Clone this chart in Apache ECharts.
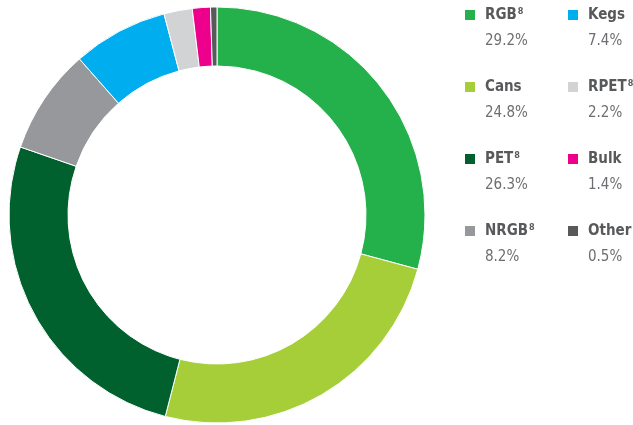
<!DOCTYPE html>
<html>
<head>
<meta charset="utf-8">
<script src="https://cdn.jsdelivr.net/npm/echarts@6/dist/echarts.min.js"></script>
<style>
  html, body { margin: 0; padding: 0; background: #fff; }
  #ChartDIV { width: 633px; height: 425px; }
</style>
</head>
<body>
<div id="ChartDIV"></div>
<script>
var names = ['RGB', 'Cans', 'PET', 'NRGB', 'Kegs', 'RPET', 'Bulk', 'Other'];
var shares = [29.2, 24.8, 26.3, 8.2, 7.4, 2.2, 1.4, 0.5];
var footnotes = ['8', '', '8', '8', '', '8', '', ''];
var colors = ['#24b14b', '#a6ce39', '#00612e', '#97989b', '#00aeef', '#d1d3d4', '#ec008c', '#58595b'];

var myChart = echarts.init(document.getElementById('ChartDIV'));

var fontFam = '"DejaVu Sans Condensed", "DejaVu Sans", sans-serif';

function legendName(name) {
    var i = names.indexOf(name);
    return '{n|' + name + '}' + (footnotes[i] ? '{s|' + footnotes[i] + '}' : '');
}
function legendValue(name) {
    var i = names.indexOf(name);
    return shares[i].toFixed(1) + '%';
}

var nameStyle = {
    fontFamily: fontFam,
    lineHeight: 18,
    padding: [0, 0, 0, 4],
    rich: {
        n: { fontFamily: fontFam, fontSize: 15, fontWeight: 'bold', color: '#58595b', lineHeight: 18 },
        s: { fontFamily: fontFam, fontSize: 9, fontWeight: 'bold', color: '#58595b', lineHeight: 18, verticalAlign: 'top', padding: [1, 0, 0, 1] }
    }
};
var valueStyle = {
    fontFamily: fontFam,
    fontSize: 15,
    color: '#6d6e71',
    lineHeight: 18,
    padding: [0, 0, 0, 4]
};

function makeLegend(list, left, top, isValue) {
    return {
        orient: 'vertical',
        left: left,
        top: top,
        padding: 0,
        icon: 'rect',
        itemWidth: 12,
        itemHeight: 12,
        itemGap: 54,
        selectedMode: false,
        data: list,
        itemStyle: isValue ? { opacity: 0 } : {},
        formatter: isValue ? legendValue : legendName,
        textStyle: isValue ? valueStyle : nameStyle
    };
}

var option = {
    color: colors,
    animation: false,
    legend: [
        makeLegend(names.slice(0, 4), 463, 6, false),
        makeLegend(names.slice(4), 566, 6, false),
        makeLegend(names.slice(0, 4), 463, 32, true),
        makeLegend(names.slice(4), 566, 32, true)
    ],
    series: [
        {
            name: '',
            type: 'pie',
            radius: [149, 208],
            center: [217, 215],
            startAngle: 90,
            clockwise: true,
            label: { show: false },
            labelLine: { show: false },
            emphasis: { disabled: true },
            itemStyle: { borderColor: '#fff', borderWidth: 1 },
            data: (function () {
                var res = [];
                for (var i = 0; i < names.length; i++) {
                    res.push({ value: shares[i], name: names[i] });
                }
                return res;
            })()
        }
    ]
};

myChart.setOption(option);
</script>
</body>
</html>
